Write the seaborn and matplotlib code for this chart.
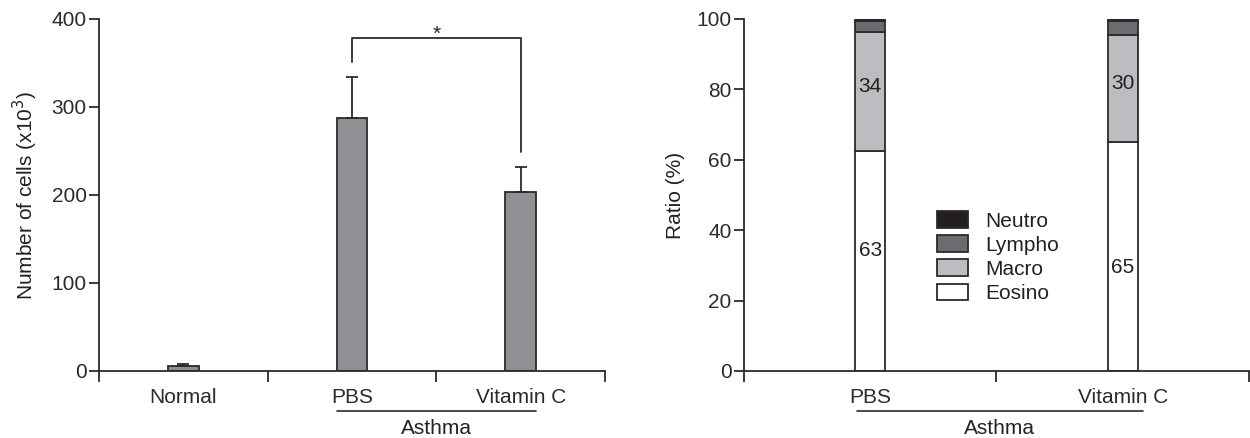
import numpy as np
import matplotlib
matplotlib.use("Agg")
import matplotlib.pyplot as plt
import matplotlib.patches as mpatches
import matplotlib.transforms as mtransforms
import seaborn as sns

# left panel: total cell counts
groups_left = ["Normal", "PBS", "Vitamin C"]
cells = [6, 288, 203]
cells_err = [2, 46, 29]

# right panel: cell type ratios (%)
groups_right = ["PBS", "Vitamin C"]
cell_types = ["Eosino", "Macro", "Lympho", "Neutro"]
eosino = [62.5, 65.0]
macro = [33.7, 30.5]
lympho = [3.3, 4.0]
neutro = [0.5, 0.5]
eosino_lab = ["63", "65"]
macro_lab = ["34", "30"]

sns.set_style("ticks")
plt.rcParams["font.family"] = ["Liberation Sans", "DejaVu Sans"]
dark = "#2b2b2b"
plt.rcParams.update({"axes.edgecolor": dark, "axes.linewidth": 1.3,
                     "xtick.color": dark, "ytick.color": dark,
                     "text.color": "#222222", "axes.labelcolor": "#222222"})
fs = 15

fig = plt.figure(figsize=(12.5, 4.38), dpi=100)
ax1 = fig.add_axes([99 / 1250, 67 / 438, 506 / 1250, 352 / 438])
ax2 = fig.add_axes([744 / 1250, 67 / 438, 505 / 1250, 352 / 438])


def style_axis(ax, n, labels, ylim, yticks, ylabel):
    ax.set_xlim(-0.5, n - 0.5)
    ax.set_ylim(*ylim)
    ax.set_yticks(yticks)
    ax.set_xticks(np.arange(n + 1) - 0.5)
    ax.set_xticklabels([])
    ax.set_xticks(np.arange(n), minor=True)
    ax.set_xticklabels(labels, minor=True, fontsize=fs)
    ax.tick_params(axis="x", which="major", direction="out", length=8, width=1.3)
    ax.tick_params(axis="x", which="minor", length=0, pad=12)
    ax.tick_params(axis="y", direction="out", length=7, width=1.3, labelsize=fs, pad=2)
    ax.set_xlabel("")
    ax.set_ylabel(ylabel, fontsize=fs, labelpad=8)
    for s in ["top", "right"]:
        ax.spines[s].set_visible(False)


def group_line(ax, x0, x1, xt, label):
    tr = mtransforms.blended_transform_factory(ax.transData, ax.transAxes)
    ax.plot([x0, x1], [-0.114, -0.114], color=dark, lw=1.2,
            transform=tr, clip_on=False)
    ax.text(xt, -0.163, label, ha="center", va="center", fontsize=fs, transform=tr)


# ---- left panel
sns.barplot(x=groups_left, y=cells, ax=ax1, width=0.18, color="#8f9094",
            edgecolor=dark, linewidth=1.3, saturation=1)
ax1.errorbar(np.arange(len(cells)), cells, yerr=[np.zeros(len(cells)), cells_err],
             fmt="none", ecolor=dark, elinewidth=1.3, capsize=4, capthick=1.3, zorder=1)
style_axis(ax1, 3, groups_left, (0, 400), [0, 100, 200, 300, 400],
           "Number of cells (x10$^3$)")
# significance bracket
ax1.plot([1, 1, 2, 2], [351, 378, 378, 249], color=dark, lw=1.3)
ax1.text(1.5, 383, "*", ha="center", va="center", fontsize=fs)
group_line(ax1, 0.91, 2.09, 1.5, "Asthma")

# ---- right panel
layers = [eosino, macro, lympho, neutro]
colors = ["#ffffff", "#bcbdc1", "#6b6c70", "#231f20"]
bottom = np.zeros(len(groups_right))
for vals, col in zip(layers, colors):
    sns.barplot(x=groups_right, y=vals, bottom=bottom, ax=ax2, width=0.12,
                color=col, edgecolor=dark, linewidth=1.3, saturation=1)
    bottom = bottom + np.array(vals)
for i in range(len(groups_right)):
    ax2.text(i, eosino[i] / 2 + 3 * (1 - 2 * i), eosino_lab[i], ha="center",
             va="center", fontsize=fs)
    ax2.text(i, eosino[i] + macro[i] / 2 + 1.5, macro_lab[i], ha="center",
             va="center", fontsize=fs)
style_axis(ax2, 2, groups_right, (0, 100), [0, 20, 40, 60, 80, 100], "Ratio (%)")
handles = [mpatches.Patch(facecolor=c, edgecolor=dark, linewidth=1.3, label=t)
           for t, c in zip(cell_types, colors)][::-1]
ax2.legend(handles=handles, loc="upper left", bbox_to_anchor=(0.345, 0.507),
           frameon=False, fontsize=fs, handlelength=1.5, handleheight=0.85,
           labelspacing=0.22, handletextpad=0.8)
group_line(ax2, -0.052, 1.08, 0.51, "Asthma")

fig.savefig("out.png", dpi=100)
